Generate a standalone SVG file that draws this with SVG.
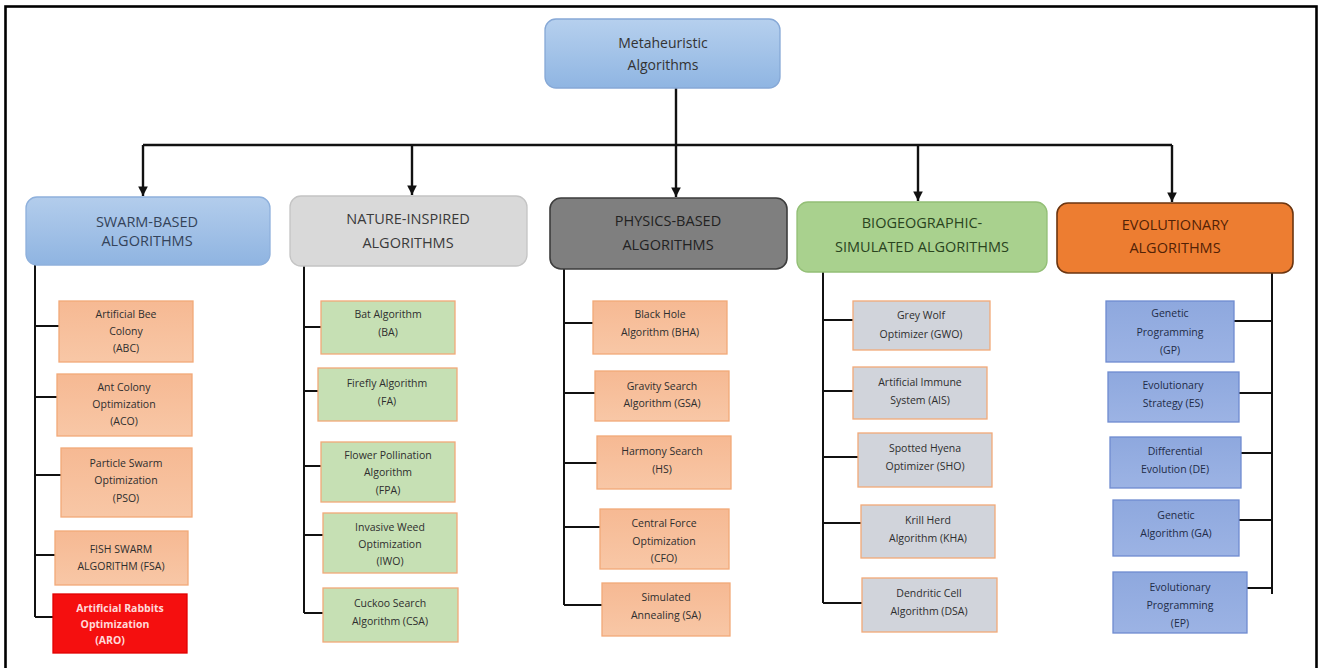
<svg xmlns="http://www.w3.org/2000/svg" width="1320" height="668" viewBox="0 0 1320 668">
  <defs>
    <style>
      text { font-family: "Open Sans", "Liberation Sans", sans-serif; text-anchor: middle; }
      .root-t { font-size: 14px; fill: #333; }
      .cat-t { font-size: 14.5px; }
      .leaf-t { font-size: 10.5px; fill: #2e2e2e; }
      .wire { fill: none; stroke: #111; stroke-width: 2.4; }
      .twig { fill: none; stroke: #111; stroke-width: 2; }
      .salmon { fill: url(#gSalmon); stroke: #f2a978; stroke-width: 1.3; }
      .green { fill: #c6e0b4; stroke: #f2a978; stroke-width: 1.3; }
      .grey { fill: #d1d4db; stroke: #f2a978; stroke-width: 1.3; }
      .blue { fill: url(#gBlue); stroke: #6f8bd0; stroke-width: 1.3; }
      .red { fill: #f50f0f; stroke: #e00000; stroke-width: 1.3; }
      .blue-t { fill: #222c48; }
      .red-t { fill: #ffd9d9; font-weight: bold; }
    </style>
    <linearGradient id="gRoot" x1="0" y1="0" x2="0" y2="1">
      <stop offset="0" stop-color="#b6d0ee"/>
      <stop offset="1" stop-color="#8fb5e2"/>
    </linearGradient>
    <linearGradient id="gSwarm" x1="0" y1="0" x2="0" y2="1">
      <stop offset="0" stop-color="#b3cdec"/>
      <stop offset="1" stop-color="#8fb4e1"/>
    </linearGradient>
    <linearGradient id="gSalmon" x1="0" y1="0" x2="0" y2="1">
      <stop offset="0" stop-color="#f6b993"/>
      <stop offset="1" stop-color="#f8c7a6"/>
    </linearGradient>
    <linearGradient id="gBlue" x1="0" y1="0" x2="0" y2="1">
      <stop offset="0" stop-color="#8ea8de"/>
      <stop offset="1" stop-color="#9cb3e4"/>
    </linearGradient>
    <marker id="arrow" viewBox="0 0 10 10" refX="10" refY="5" markerWidth="4" markerHeight="4" orient="auto" markerUnits="strokeWidth">
      <path d="M0,0 L10,5 L0,10 z" fill="#111"/>
    </marker>
  </defs>

  <rect width="1320" height="668" fill="#fff"/>
  <!-- outer frame -->
  <rect x="5.5" y="6.5" width="1311" height="670" fill="none" stroke="#000" stroke-width="2.6"/>

  <!-- connectors -->
  <g id="connectors">
    <path class="wire" d="M676,88 V145 M143,145 H1172"/>
    <path class="wire" d="M143,145 V196" marker-end="url(#arrow)"/>
    <path class="wire" d="M412,145 V195" marker-end="url(#arrow)"/>
    <path class="wire" d="M676,145 V197" marker-end="url(#arrow)"/>
    <path class="wire" d="M918,145 V201" marker-end="url(#arrow)"/>
    <path class="wire" d="M1172,145 V202" marker-end="url(#arrow)"/>

    <!-- swarm trunk and branches -->
    <path class="twig" d="M35,265 V617 M35,326 H59 M35,397 H57 M35,475 H61 M35,555 H55 M35,617 H53"/>
    <!-- nature trunk and branches -->
    <path class="twig" d="M304,266 V613 M304,327 H321 M304,391 H318 M304,466 H321 M304,535 H323 M304,613 H323"/>
    <!-- physics trunk and branches -->
    <path class="twig" d="M564,269 V605 M564,323 H593 M564,393 H595 M564,463 H597 M564,527 H600 M564,605 H602"/>
    <!-- biogeographic trunk and branches -->
    <path class="twig" d="M823,272 V603 M823,320 H853 M823,391 H853 M823,457 H858 M823,523 H861 M823,603 H862"/>
    <!-- evolutionary trunk and branches -->
    <path class="twig" d="M1272,273 V594 M1272,321 H1234 M1272,393 H1239 M1272,453 H1241 M1272,520 H1239 M1272,588 H1247"/>
  </g>

  <!-- root -->
  <g id="root">
    <rect x="545" y="19" width="235" height="69" rx="11" fill="url(#gRoot)" stroke="#86a8d6" stroke-width="1.3"/>
    <text class="root-t" x="663" y="48">Metaheuristic</text>
    <text class="root-t" x="663" y="70">Algorithms</text>
  </g>

  <!-- category headers -->
  <g id="cat-swarm">
    <rect x="26" y="197" width="244" height="68" rx="11" fill="url(#gSwarm)" stroke="#8eb0dc" stroke-width="1.3"/>
    <text class="cat-t" x="147" y="227" fill="#34435a">SWARM-BASED</text>
    <text class="cat-t" x="147" y="246" fill="#34435a">ALGORITHMS</text>
  </g>
  <g id="cat-nature">
    <rect x="290" y="196" width="237" height="70" rx="11" fill="#d9d9d9" stroke="#c4c4c4" stroke-width="1.3"/>
    <text class="cat-t" x="408" y="224" fill="#3a3a3a">NATURE-INSPIRED</text>
    <text class="cat-t" x="408" y="248" fill="#3a3a3a">ALGORITHMS</text>
  </g>
  <g id="cat-physics">
    <rect x="550" y="198" width="237" height="71" rx="11" fill="#7f7f7f" stroke="#3d3d3d" stroke-width="1.6"/>
    <text class="cat-t" x="668" y="226" fill="#222">PHYSICS-BASED</text>
    <text class="cat-t" x="668" y="250" fill="#222">ALGORITHMS</text>
  </g>
  <g id="cat-bio">
    <rect x="797" y="202" width="250" height="70" rx="11" fill="#a9d18e" stroke="#93bf76" stroke-width="1.3"/>
    <text class="cat-t" x="922" y="228" fill="#2a441e">BIOGEOGRAPHIC-</text>
    <text class="cat-t" x="922" y="252" fill="#2a441e">SIMULATED ALGORITHMS</text>
  </g>
  <g id="cat-evo">
    <rect x="1057" y="203" width="236" height="70" rx="11" fill="#ed7d31" stroke="#6b3510" stroke-width="1.6"/>
    <text class="cat-t" x="1175" y="230" fill="#522206">EVOLUTIONARY</text>
    <text class="cat-t" x="1175" y="253" fill="#522206">ALGORITHMS</text>
  </g>

  <!-- swarm-based leaves -->
  <g id="abc"><rect class="salmon" x="59" y="301" width="134" height="61"/>
    <text class="leaf-t" x="126" y="318">Artificial Bee</text>
    <text class="leaf-t" x="126" y="335">Colony</text>
    <text class="leaf-t" x="126" y="352">(ABC)</text></g>
  <g id="aco"><rect class="salmon" x="57" y="374" width="135" height="62"/>
    <text class="leaf-t" x="124" y="391">Ant Colony</text>
    <text class="leaf-t" x="124" y="408">Optimization</text>
    <text class="leaf-t" x="124" y="425">(ACO)</text></g>
  <g id="pso"><rect class="salmon" x="61" y="448" width="131" height="69"/>
    <text class="leaf-t" x="126" y="467">Particle Swarm</text>
    <text class="leaf-t" x="126" y="484">Optimization</text>
    <text class="leaf-t" x="126" y="502">(PSO)</text></g>
  <g id="fsa"><rect class="salmon" x="55" y="531" width="133" height="54"/>
    <text class="leaf-t" x="121" y="553">FISH SWARM</text>
    <text class="leaf-t" x="121" y="570">ALGORITHM (FSA)</text></g>
  <g id="aro"><rect class="red" x="53" y="594" width="134" height="59"/>
    <text class="leaf-t red-t" x="120" y="612">Artificial Rabbits</text>
    <text class="leaf-t red-t" x="115" y="628">Optimization</text>
    <text class="leaf-t red-t" x="110" y="644">(ARO)</text></g>

  <!-- nature-inspired leaves -->
  <g id="ba"><rect class="green" x="321" y="301" width="134" height="53"/>
    <text class="leaf-t" x="388" y="318">Bat Algorithm</text>
    <text class="leaf-t" x="388" y="336">(BA)</text></g>
  <g id="fa"><rect class="green" x="318" y="368" width="139" height="53"/>
    <text class="leaf-t" x="387" y="387">Firefly Algorithm</text>
    <text class="leaf-t" x="387" y="405">(FA)</text></g>
  <g id="fpa"><rect class="green" x="321" y="442" width="134" height="60"/>
    <text class="leaf-t" x="388" y="459">Flower Pollination</text>
    <text class="leaf-t" x="388" y="476">Algorithm</text>
    <text class="leaf-t" x="388" y="494">(FPA)</text></g>
  <g id="iwo"><rect class="green" x="323" y="513" width="134" height="60"/>
    <text class="leaf-t" x="390" y="531">Invasive Weed</text>
    <text class="leaf-t" x="390" y="548">Optimization</text>
    <text class="leaf-t" x="390" y="565">(IWO)</text></g>
  <g id="csa"><rect class="green" x="323" y="588" width="135" height="54"/>
    <text class="leaf-t" x="390" y="607">Cuckoo Search</text>
    <text class="leaf-t" x="390" y="625">Algorithm (CSA)</text></g>

  <!-- physics-based leaves -->
  <g id="bha"><rect class="salmon" x="593" y="301" width="134" height="53"/>
    <text class="leaf-t" x="660" y="318">Black Hole</text>
    <text class="leaf-t" x="660" y="336">Algorithm (BHA)</text></g>
  <g id="gsa"><rect class="salmon" x="595" y="371" width="134" height="50"/>
    <text class="leaf-t" x="662" y="390">Gravity Search</text>
    <text class="leaf-t" x="662" y="407">Algorithm (GSA)</text></g>
  <g id="hs"><rect class="salmon" x="597" y="436" width="134" height="53"/>
    <text class="leaf-t" x="662" y="455">Harmony Search</text>
    <text class="leaf-t" x="662" y="473">(HS)</text></g>
  <g id="cfo"><rect class="salmon" x="600" y="509" width="129" height="60"/>
    <text class="leaf-t" x="664" y="527">Central Force</text>
    <text class="leaf-t" x="664" y="545">Optimization</text>
    <text class="leaf-t" x="664" y="562">(CFO)</text></g>
  <g id="sa"><rect class="salmon" x="602" y="583" width="128" height="53"/>
    <text class="leaf-t" x="666" y="601">Simulated</text>
    <text class="leaf-t" x="666" y="619">Annealing (SA)</text></g>

  <!-- biogeographic-simulated leaves -->
  <g id="gwo"><rect class="grey" x="853" y="301" width="137" height="49"/>
    <text class="leaf-t" x="921" y="319">Grey Wolf</text>
    <text class="leaf-t" x="921" y="338">Optimizer (GWO)</text></g>
  <g id="ais"><rect class="grey" x="853" y="367" width="134" height="52"/>
    <text class="leaf-t" x="920" y="386">Artificial Immune</text>
    <text class="leaf-t" x="920" y="404">System (AIS)</text></g>
  <g id="sho"><rect class="grey" x="858" y="433" width="134" height="54"/>
    <text class="leaf-t" x="925" y="452">Spotted Hyena</text>
    <text class="leaf-t" x="925" y="470">Optimizer (SHO)</text></g>
  <g id="kha"><rect class="grey" x="861" y="505" width="134" height="53"/>
    <text class="leaf-t" x="928" y="524">Krill Herd</text>
    <text class="leaf-t" x="928" y="542">Algorithm (KHA)</text></g>
  <g id="dsa"><rect class="grey" x="862" y="578" width="135" height="54"/>
    <text class="leaf-t" x="929" y="597">Dendritic Cell</text>
    <text class="leaf-t" x="929" y="615">Algorithm (DSA)</text></g>

  <!-- evolutionary leaves -->
  <g id="gp"><rect class="blue" x="1106" y="301" width="128" height="61"/>
    <text class="leaf-t blue-t" x="1170" y="317">Genetic</text>
    <text class="leaf-t blue-t" x="1170" y="336">Programming</text>
    <text class="leaf-t blue-t" x="1170" y="354">(GP)</text></g>
  <g id="es"><rect class="blue" x="1108" y="372" width="131" height="50"/>
    <text class="leaf-t blue-t" x="1173" y="389">Evolutionary</text>
    <text class="leaf-t blue-t" x="1173" y="407">Strategy (ES)</text></g>
  <g id="de"><rect class="blue" x="1110" y="437" width="131" height="51"/>
    <text class="leaf-t blue-t" x="1175" y="455">Differential</text>
    <text class="leaf-t blue-t" x="1175" y="473">Evolution (DE)</text></g>
  <g id="ga"><rect class="blue" x="1113" y="500" width="126" height="56"/>
    <text class="leaf-t blue-t" x="1176" y="519">Genetic</text>
    <text class="leaf-t blue-t" x="1176" y="537">Algorithm (GA)</text></g>
  <g id="ep"><rect class="blue" x="1113" y="572" width="134" height="61"/>
    <text class="leaf-t blue-t" x="1180" y="591">Evolutionary</text>
    <text class="leaf-t blue-t" x="1180" y="609">Programming</text>
    <text class="leaf-t blue-t" x="1180" y="627">(EP)</text></g>
</svg>
